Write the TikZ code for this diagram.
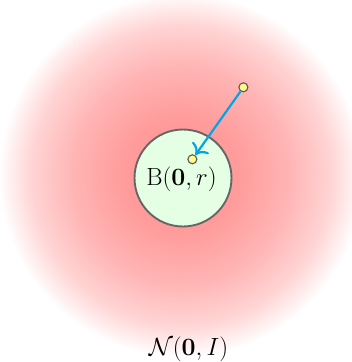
\documentclass[tikz,border=0pt]{standalone}
\usepackage{amsmath}
\usetikzlibrary{arrows.meta}
\pgfdeclareradialshading{glow}{\pgfpoint{0bp}{0bp}}{color(0bp)=(red!42); color(8bp)=(red!39); color(15bp)=(red!29); color(20.5bp)=(red!17); color(23.5bp)=(red!6); color(25bp)=(white); color(50bp)=(white)}
\definecolor{arrowblue}{RGB}{0,165,230}
\tikzset{
  ball/.style={circle, draw=black!60, line width=1.9pt, fill=green!10, minimum size=97pt, inner sep=0pt},
  dot/.style={circle, draw=black!65, line width=1.1pt, fill=yellow!45, minimum size=9pt, inner sep=0pt},
  move/.style={draw=arrowblue, line width=2.2pt, -{To[scale=1.5]}, shorten >=0.3pt},
  lbl/.style={inner sep=0pt, anchor=base}
}
\begin{document}
\begin{tikzpicture}[x=1pt,y=-1pt]
\useasboundingbox (0,0) rectangle (352,362);
\begin{scope}
\clip (0,0) rectangle (352,362);
\shade[shading=glow] (181,175) circle (182);
\end{scope}
\node[ball] (ball) at (183,178) {};
\node[lbl, font=\fontsize{27.5}{32}\selectfont] (btext) at (181.5,185.5) {$\mathrm{B}(\mathbf{0},r)$};
\node[dot] (p) at (243.4,87.3) {};
\node[dot] (q) at (192.4,159.3) {};
\draw[move] (p) -- (q);
\node[lbl, font=\fontsize{30}{36}\selectfont] (ntext) at (188.5,355.5) {$\mathcal{N}(\mathbf{0},I)$};
\end{tikzpicture}
\end{document}
